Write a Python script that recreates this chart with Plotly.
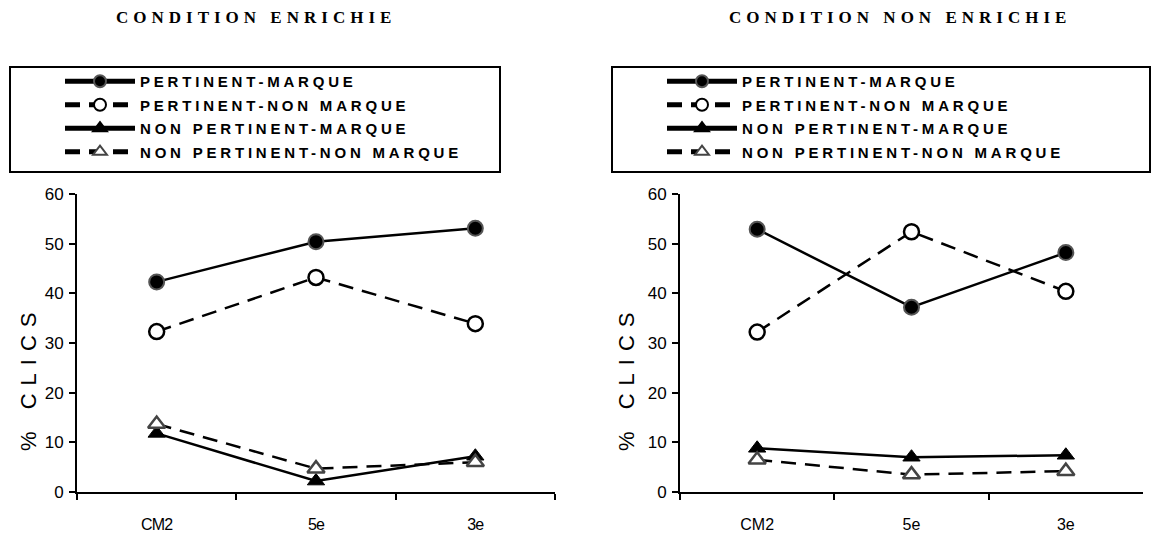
import plotly.graph_objects as go

W, H = 1157, 535

categories = ["CM2", "5e", "3e"]
series_names = ["PERTINENT-MARQUE", "PERTINENT-NON MARQUE",
                "NON PERTINENT-MARQUE", "NON PERTINENT-NON MARQUE"]

# Condition enrichie
enr_pm = [42.3, 50.4, 53.1]
enr_pnm = [32.3, 43.2, 33.9]
enr_npm = [11.8, 2.2, 7.2]
enr_npnm = [13.7, 4.7, 6.0]

# Condition non enrichie
non_pm = [52.9, 37.2, 48.2]
non_pnm = [32.2, 52.4, 40.4]
non_npm = [8.8, 7.0, 7.4]
non_npnm = [6.5, 3.5, 4.2]

titles = ["CONDITION ENRICHIE", "CONDITION NON ENRICHIE"]
y_title = "% CLICS"
y_ticks = [0, 10, 20, 30, 40, 50, 60]
boundaries = [-0.5, 0.5, 1.5, 2.5]

DASH = "15px,9px"
styles = [
    dict(line=dict(color="black", width=2.5, dash="solid"),
         marker=dict(symbol="circle", size=15, color="black",
                     line=dict(color="#555555", width=2))),
    dict(line=dict(color="black", width=2.5, dash=DASH),
         marker=dict(symbol="circle", size=15, color="white",
                     line=dict(color="black", width=2.5))),
    dict(line=dict(color="black", width=2.5, dash="solid"),
         marker=dict(symbol="triangle-up", size=15, color="black",
                     line=dict(color="black", width=1))),
    dict(line=dict(color="black", width=2.5, dash=DASH),
         marker=dict(symbol="triangle-up", size=15, color="white",
                     line=dict(color="#444444", width=2.5))),
]

fig = go.Figure()

panels = [
    dict(data=[enr_pm, enr_pnm, enr_npm, enr_npnm], xa="x", ya="y", legend="legend"),
    dict(data=[non_pm, non_pnm, non_npm, non_npnm], xa="x2", ya="y2", legend="legend2"),
]
for p in panels:
    for i, (name, vals) in enumerate(zip(series_names, p["data"])):
        fig.add_trace(go.Scatter(
            x=categories, y=vals, name=name, mode="lines+markers",
            xaxis=p["xa"], yaxis=p["ya"], legend=p["legend"],
            legendgroup=p["legend"] + str(i),
            line=styles[i]["line"], marker=styles[i]["marker"],
            cliponaxis=False, showlegend=True,
        ))

def px(x):
    return x / W

def py(y):
    return 1 - y / H

xdom_l = [px(77), px(555)]
xdom_r = [px(680), px(1143)]
ydom = [py(492), py(194)]

tick_font = dict(family="Liberation Sans, Arial, sans-serif", size=17, color="black")
xtick_font = dict(family="Liberation Sans, Arial, sans-serif", size=16, color="black")

def x_main(dom, anchor):
    return dict(domain=dom, anchor=anchor, type="category", categoryorder="array",
                categoryarray=categories, range=[-0.5, 2.5], showgrid=False,
                zeroline=False, showline=True, linecolor="black", linewidth=2,
                ticks="outside", tickson="boundaries", ticklen=6, tickwidth=2,
                tickcolor="black", tickfont=xtick_font, ticklabelstandoff=17,
                automargin=False)

def x_over(overlay, anchor):
    return dict(overlaying=overlay, anchor=anchor, range=[-0.5, 2.5], showgrid=False,
                zeroline=False, showline=False, tickmode="array", tickvals=boundaries,
                ticks="inside", ticklen=6, tickwidth=2, tickcolor="black",
                showticklabels=False, automargin=False)

def y_main(anchor):
    return dict(domain=ydom, anchor=anchor, range=[0, 60], showgrid=False,
                zeroline=False, showline=True, linecolor="black", linewidth=2,
                tickmode="array", tickvals=y_ticks, ticks="outside", ticklen=6,
                tickwidth=2, tickcolor="black", tickfont=tick_font,
                ticklabelstandoff=2, automargin=False)

def y_over(overlay, anchor):
    return dict(overlaying=overlay, anchor=anchor, range=[0, 60], showgrid=False,
                zeroline=False, showline=False, tickmode="array", tickvals=y_ticks,
                ticks="inside", ticklen=6, tickwidth=2, tickcolor="black",
                showticklabels=False, automargin=False)

legend_font = dict(family="Liberation Sans, Arial, sans-serif", size=15, color="black",
                   weight="bold")

def legend_cfg(xp):
    return dict(x=px(xp), y=py(65), xanchor="left", yanchor="top",
                bgcolor="rgba(0,0,0,0)", borderwidth=0, font=legend_font,
                traceorder="grouped", tracegroupgap=1, itemsizing="constant",
                itemwidth=70, itemclick=False)

title_font = dict(family="Liberation Serif, Times New Roman, serif", size=17,
                  color="black", weight="bold")
ytitle_font = dict(family="Liberation Sans, Arial, sans-serif", size=22, color="black")

fig.update_layout(
    width=W, height=H, margin=dict(l=0, r=0, t=0, b=0, autoexpand=False),
    paper_bgcolor="white", plot_bgcolor="white",
    xaxis=x_main(xdom_l, "y"), yaxis=y_main("x"),
    xaxis2=x_main(xdom_r, "y2"), yaxis2=y_main("x2"),
    xaxis3=x_over("x", "y"), yaxis3=y_over("y", "x"),
    xaxis4=x_over("x2", "y2"), yaxis4=y_over("y2", "x2"),
    legend=legend_cfg(60), legend2=legend_cfg(662),
    shapes=[
        dict(type="rect", xref="paper", yref="paper", x0=px(10), x1=px(500),
             y0=py(172), y1=py(67), line=dict(color="black", width=2)),
        dict(type="rect", xref="paper", yref="paper", x0=px(612), x1=px(1150),
             y0=py(172), y1=py(67), line=dict(color="black", width=2)),
    ],
    annotations=[
        dict(text=titles[0], x=px(256), y=py(18), xref="paper", yref="paper",
             showarrow=False, xanchor="center", yanchor="middle", font=title_font),
        dict(text=titles[1], x=px(900), y=py(18), xref="paper", yref="paper",
             showarrow=False, xanchor="center", yanchor="middle", font=title_font),
        dict(text=y_title, x=px(28), y=py(378), xref="paper", yref="paper",
             showarrow=False, textangle=-90, xanchor="center", yanchor="middle",
             font=ytitle_font),
        dict(text=y_title, x=px(626), y=py(378), xref="paper", yref="paper",
             showarrow=False, textangle=-90, xanchor="center", yanchor="middle",
             font=ytitle_font),
    ],
    showlegend=True,
)

post = """
var css = document.createElement('style');
css.textContent = [
  'html, body { margin: 0 !important; padding: 0 !important; overflow: hidden; }',
  '.legendtext, .legend2text { letter-spacing: 3.8px !important; }',
  '.scrollbox { clip-path: none !important; }',
  '.annotation[data-index="0"] .annotation-text, .annotation[data-index="1"] .annotation-text { letter-spacing: 5px !important; }',
  '.annotation[data-index="2"] .annotation-text, .annotation[data-index="3"] .annotation-text { letter-spacing: 8px !important; }',
  '.xtick text { letter-spacing: -0.8px !important; }'
].join('\\n');
document.head.appendChild(css);
"""

fig.write_html("out.html", post_script=post, config={"displayModeBar": False})
